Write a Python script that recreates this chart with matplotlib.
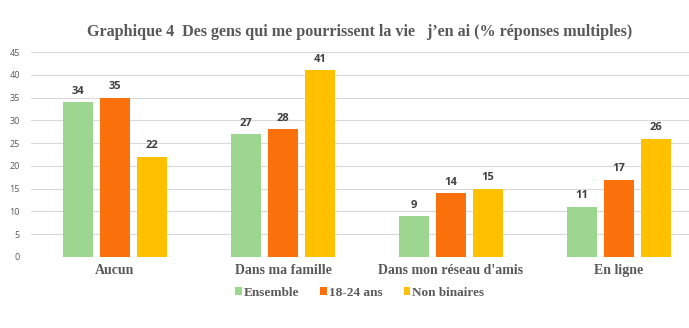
import numpy as np
from matplotlib import pyplot as plt

categories = ["Aucun", "Dans ma famille", "Dans mon réseau d'amis", "En ligne"]
ensemble = [34, 27, 9, 11]
jeunes = [35, 28, 14, 17]
non_binaires = [22, 41, 15, 26]
series = [("Ensemble", ensemble, "#9DD68E"),
          ("18-24 ans", jeunes, "#FA710C"),
          ("Non binaires", non_binaires, "#FFC000")]

fig = plt.figure(figsize=(6.89, 3.28), dpi=100)
ax = fig.add_axes([31 / 689, 71 / 328, 672 / 689, 205 / 328])

x = np.arange(len(categories))
width = 0.176
pitch = 0.22
for i, (name, vals, color) in enumerate(series):
    pos = x + (i - 1) * pitch
    bars = ax.bar(pos, vals, width, color=color, label=name, zorder=3)
    for b, v in zip(bars, vals):
        ax.text(b.get_x() + b.get_width() / 2, v + 1.2, str(v), ha="center", va="bottom",
                fontsize=8, fontweight="bold", color="#404040", family="Open Sans")

ax.set_xlim(-0.5, 3.5)
ax.set_ylim(0, 45)
ax.set_yticks(range(0, 46, 5))
ax.grid(axis="y", color="#D9D9D9", lw=0.8, zorder=0)
for s in ax.spines.values():
    s.set_visible(False)
ax.tick_params(axis="y", length=0, pad=8, labelsize=6.5, labelcolor="#595959")
ax.tick_params(axis="x", length=0, pad=5)
ax.set_xticks(x)
ax.set_xticklabels(categories, family="Liberation Serif", fontweight="bold",
                   fontsize=10, color="#595959")
for lab in ax.get_yticklabels():
    lab.set_family("Open Sans")

fig.text(0.522, 0.902, "Graphique 4  Des gens qui me pourrissent la vie   j\u2019en ai (% réponses multiples)",
         ha="center", va="center", family="Liberation Serif", fontweight="bold",
         fontsize=11.6, color="#595959")

leg = fig.legend(loc="center", bbox_to_anchor=(0.522, 0.108), ncol=3, frameon=False,
                 handlelength=0.5, handleheight=0.5, handletextpad=0.15, columnspacing=1.6,
                 prop={"family": "Liberation Serif", "weight": "bold", "size": 9.5})
for t in leg.get_texts():
    t.set_color("#595959")

plt.savefig("out.png", dpi=100)
